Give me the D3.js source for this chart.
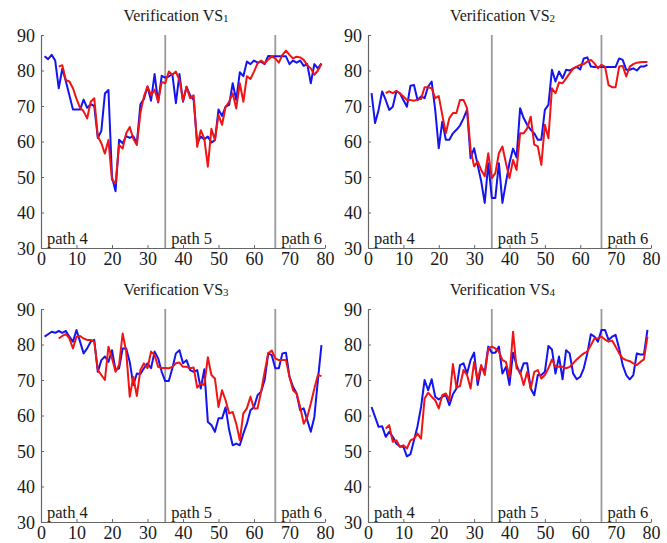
<!DOCTYPE html>
<html>
<head>
<meta charset="utf-8">
<script src="https://cdn.jsdelivr.net/npm/d3@7"></script>
<style>
  html, body { margin: 0; padding: 0; background: #fff; }
  svg { display: block; }
</style>
</head>
<body>
<svg id="chart" width="667" height="543"></svg>
<script>
// ---------------- data ----------------
const xTicks = [0, 10, 20, 30, 40, 50, 60, 70, 80];
const yTicks = [30, 40, 50, 60, 70, 80, 90];
const pathBounds = [35, 66];
const pathLabels = ["path 4", "path 5", "path 6"];
const titles = ["Verification VS", "Verification VS", "Verification VS", "Verification VS"];
const titleSubs = ["1", "2", "3", "4"];
const blueStart = 1;
const redStart = 5;

const vs1Blue = [84, 83.2, 84.4, 82.8, 75, 80.5, 77, 73, 69, 69,
  69, 71.8, 69.5, 70.5, 70, 61, 63, 73.5, 74.5, 50,
  46, 60.5, 59.5, 61.5, 61, 61.5, 59.5, 70.5, 72, 75.5,
  71.5, 79, 71, 78.5, 78, 78.3, 79, 70.8, 79, 71.2,
  75.4, 73, 71.7, 59.5, 61.4, 60.6, 61.4, 59.7, 60.4, 69,
  67.2, 69.8, 70.3, 76.4, 71.7, 79.5, 78.4, 82.5, 81.8, 82.8,
  82.2, 82.5, 81.8, 84.1, 84, 84, 84, 84, 84, 81.8,
  82.8, 82.2, 82.8, 81.3, 81.8, 76.4, 81.8, 80.6, 82];
const vs1Red = [81.1, 81.5, 77.3, 76.9, 75, 72, 69.5, 68.5, 66.5, 71.2,
  72.2, 61.4, 59.5, 56.6, 60.4, 49.2, 48.2, 59, 58, 62.3,
  64.1, 60.8, 59, 68, 72.7, 75.5, 73, 74.6, 71.2, 76.8,
  76.4, 79.7, 78.8, 79.7, 77.3, 71.5, 75.4, 72.2, 73, 58.5,
  63.2, 60.8, 52.9, 63.6, 60.4, 67.5, 64.7, 69.8, 71.2, 73.6,
  69.3, 76.4, 71.2, 78.4, 77.6, 79.7, 82, 82.8, 82, 83.1,
  83.9, 83.4, 82.2, 84.4, 85.6, 84.4, 83.4, 83.9, 83.7, 83,
  81.5, 80.6, 78.8, 80, 81.8];

const vs2Blue = [73.6, 65.2, 68.9, 74.1, 71.7, 68.9, 69.8, 74.1, 73.6, 71.7,
  69.8, 75.7, 75.9, 71.7, 72.7, 72.2, 75.5, 76.9, 68.9, 58.1,
  65.6, 60.5, 60.5, 62.3, 63.3, 64.5, 66.5, 69, 55.3, 58.1,
  53.4, 48.8, 42.7, 53.9, 44.1, 44.1, 53.9, 42.7, 48.5, 54,
  58, 55.5, 69.4, 66.6, 64.7, 63.3, 62.3, 60.5, 60.5, 68.9,
  70.3, 80.2, 76.9, 79.7, 77.8, 80.2, 80, 80.5, 81, 80.3,
  83.4, 83.7, 81.1, 81, 81, 81, 81, 81, 81, 81,
  83.4, 83, 80.2, 80.2, 80.6, 80, 81.1, 81.1, 81.6];
const vs2Red = [73.6, 74.1, 73.6, 74.3, 73.6, 72.7, 71.7, 71.7, 71.5, 71.8,
  72, 75.3, 75.3, 75, 72.2, 72.8, 67.5, 62.3, 66.6, 68,
  68, 71.7, 71.7, 69.4, 57.7, 53, 54.4, 52, 50.2, 56.7,
  49.7, 51.1, 56.7, 58.6, 53.9, 49.7, 54.8, 52, 62.3, 62.3,
  63.7, 67, 59.1, 58.6, 53.4, 64.7, 60.9, 75, 73.6, 76.6,
  76.4, 77.8, 79.2, 80.6, 81.1, 81.6, 81.8, 82.5, 83, 82,
  80.6, 81.6, 81.1, 75.9, 75.3, 75.3, 81.1, 81.3, 78.3, 81.1,
  81.8, 82.2, 82.3, 82.4, 82.4];

const vs3Blue = [82.2, 82.9, 83.6, 83.3, 83.8, 83.3, 83.8, 82.2, 80.8, 84.1,
  80.8, 77.5, 78.9, 80.8, 81.3, 72.3, 75.6, 76.6, 75.1, 78.4,
  72.8, 73.3, 78.9, 78.9, 75.1, 68.6, 71.8, 71.7, 73.3, 74.7,
  73.3, 78, 76.1, 72.3, 69.7, 69.7, 73.3, 77.5, 78.4, 74.7,
  75.6, 72.8, 72.3, 72.8, 67.6, 73, 58.2, 57.3, 55.4, 59.2,
  59.2, 62.3, 55.9, 51.6, 52.1, 51.6, 54.9, 57.7, 61.5, 62.4,
  65.7, 66.7, 70, 77.5, 77, 73.3, 73.3, 77.5, 77.7, 70.9,
  68.1, 66.2, 61.5, 62, 58.7, 55.4, 59.6, 70, 79.8];
const vs3Red = [81.7, 82.4, 82.9, 81.7, 78.9, 82.2, 82.4, 81.7, 81.3, 81.3,
  80.8, 72.8, 71.4, 70, 79.4, 76.1, 72.3, 74.2, 83.1, 78,
  65.3, 70.9, 65.5, 72.8, 74.7, 73.3, 78, 77, 73.7, 73.4,
  73.4, 73.3, 73.7, 74.7, 74.9, 73.7, 73.7, 73.3, 73.5, 67.9,
  69, 68.6, 76.4, 71.4, 70.4, 62.4, 67.1, 64.3, 60.6, 61,
  57.7, 53, 60.6, 62, 65.3, 62, 62, 66.7, 72.3, 77.5,
  78.3, 76.1, 75.6, 75.6, 75.6, 70.9, 67.1, 66.2, 62.4, 57.7,
  59.6, 63.4, 67.6, 71.4, 71.1];

const vs4Blue = [62.4, 59.6, 56.8, 57, 54, 55.4, 54, 52.1, 51.3, 51.2,
  48.5, 49.1, 53, 57, 62.4, 70, 67.1, 70.2, 65.3, 64.5,
  65.3, 65.7, 62.9, 66, 67.6, 74.2, 74.7, 71.8, 75.6, 77.7,
  68.6, 73.7, 72.3, 79.4, 77.7, 77.7, 79.4, 71.8, 73.7, 68.6,
  77.7, 74.2, 71.8, 74.7, 74.7, 67.6, 65.7, 71.4, 71.4, 72.3,
  79.6, 78.6, 71.8, 76.6, 70.2, 78.4, 77.5, 71.8, 70.2, 70.9,
  73.3, 77.5, 82.9, 82.2, 80.8, 84.1, 84.1, 81.3, 82.2, 82.7,
  78.9, 74.2, 71.4, 70.2, 71.4, 77.5, 77.2, 77.2, 84.1];
const vs4Red = [56.3, 57.3, 52.6, 53, 51.2, 51.6, 50.7, 53, 53.5, 54.9,
  53.5, 64.8, 66.4, 65.3, 64.3, 62, 65.7, 66.2, 64.3, 74.5,
  67.9, 68.3, 72.8, 71.4, 67.6, 75.1, 70, 74.2, 71.4, 78.9,
  79.4, 78.9, 78, 75.6, 75.1, 70.9, 83.6, 73.3, 72.3, 68.6,
  72.3, 67.6, 72.3, 72.8, 70.4, 71.4, 73.3, 75.8, 73.7, 73.7,
  73.7, 73.3, 73.7, 74.7, 75.8, 76.7, 77.5, 78, 79.8, 81.7,
  81.7, 82.2, 81.4, 80.8, 81.1, 79.4, 77.5, 76.1, 75.6, 75.3,
  74.7, 74.2, 75.1, 75.8, 82.2];

const blueSeries = [vs1Blue, vs2Blue, vs3Blue, vs4Blue];
const redSeries = [vs1Red, vs2Red, vs3Red, vs4Red];

// ---------------- layout ----------------
const FONT = "'Liberation Serif', 'DejaVu Serif', serif";
const boxes = [
  { left: 41, right: 325, top: 35, bottom: 248 },
  { left: 368, right: 651, top: 35, bottom: 248 },
  { left: 41, right: 325, top: 309, bottom: 522 },
  { left: 368, right: 651, top: 309, bottom: 522 }
];
const BLUE = "#1414f0";
const RED = "#f01414";
const INK = "#1a1a1a";

const svg = d3.select("#chart");

boxes.forEach((b, i) => {
  const x = d3.scaleLinear().domain([0, 80]).range([b.left, b.right]);
  const y = d3.scaleLinear().domain([30, 90]).range([b.bottom, b.top]);
  const g = svg.append("g");

  // title
  const t = g.append("text")
    .attr("x", (b.left + b.right) / 2 - 7)
    .attr("y", b.top - 14)
    .attr("text-anchor", "middle")
    .attr("font-family", FONT)
    .attr("fill", INK)
    .attr("font-size", 16);
  t.append("tspan").text(titles[i]);
  t.append("tspan").text(titleSubs[i]).attr("font-size", 11).attr("dy", 1);

  // axes
  const xAxis = d3.axisBottom(x).tickValues(xTicks).tickSizeInner(-3).tickSizeOuter(0).tickPadding(4);
  const yAxis = d3.axisLeft(y).tickValues(yTicks).tickSizeInner(-3).tickSizeOuter(0).tickPadding(6);
  const gx = g.append("g").attr("transform", `translate(0,${b.bottom})`).call(xAxis);
  const gy = g.append("g").attr("transform", `translate(${b.left},0)`).call(yAxis);
  [gx, gy].forEach(a => {
    a.attr("font-family", FONT).attr("font-size", 18);
    a.select(".domain").attr("stroke", "#666").attr("stroke-width", 1.2);
    a.selectAll(".tick line").attr("stroke", "#666");
    a.selectAll("text").attr("fill", INK);
  });
  gy.selectAll("text").attr("dy", "0.34em");

  // path boundaries
  g.selectAll("line.bound").data(pathBounds).join("line")
    .attr("class", "bound")
    .attr("x1", d => x(d)).attr("x2", d => x(d))
    .attr("y1", y(90)).attr("y2", y(30))
    .attr("stroke", "#9a9a9a").attr("stroke-width", 1.8);

  // path labels
  const labelStarts = [0, ...pathBounds];
  g.selectAll("text.plabel").data(pathLabels).join("text")
    .attr("class", "plabel")
    .attr("x", (d, k) => x(labelStarts[k]) + 6)
    .attr("y", y(30) - 4)
    .attr("font-family", FONT)
    .attr("font-size", 16.5)
    .attr("fill", INK)
    .text(d => d);

  // series
  const line = d3.line().x(d => x(d[0])).y(d => y(d[1]));
  const bData = blueSeries[i].map((v, k) => [blueStart + k, v]);
  const rData = redSeries[i].map((v, k) => [redStart + k, v]);
  g.append("path").datum(bData).attr("d", line)
    .attr("fill", "none").attr("stroke", BLUE).attr("stroke-width", 2).attr("stroke-linejoin", "round");
  g.append("path").datum(rData).attr("d", line)
    .attr("fill", "none").attr("stroke", RED).attr("stroke-width", 2).attr("stroke-linejoin", "round");
});
</script>
</body>
</html>
